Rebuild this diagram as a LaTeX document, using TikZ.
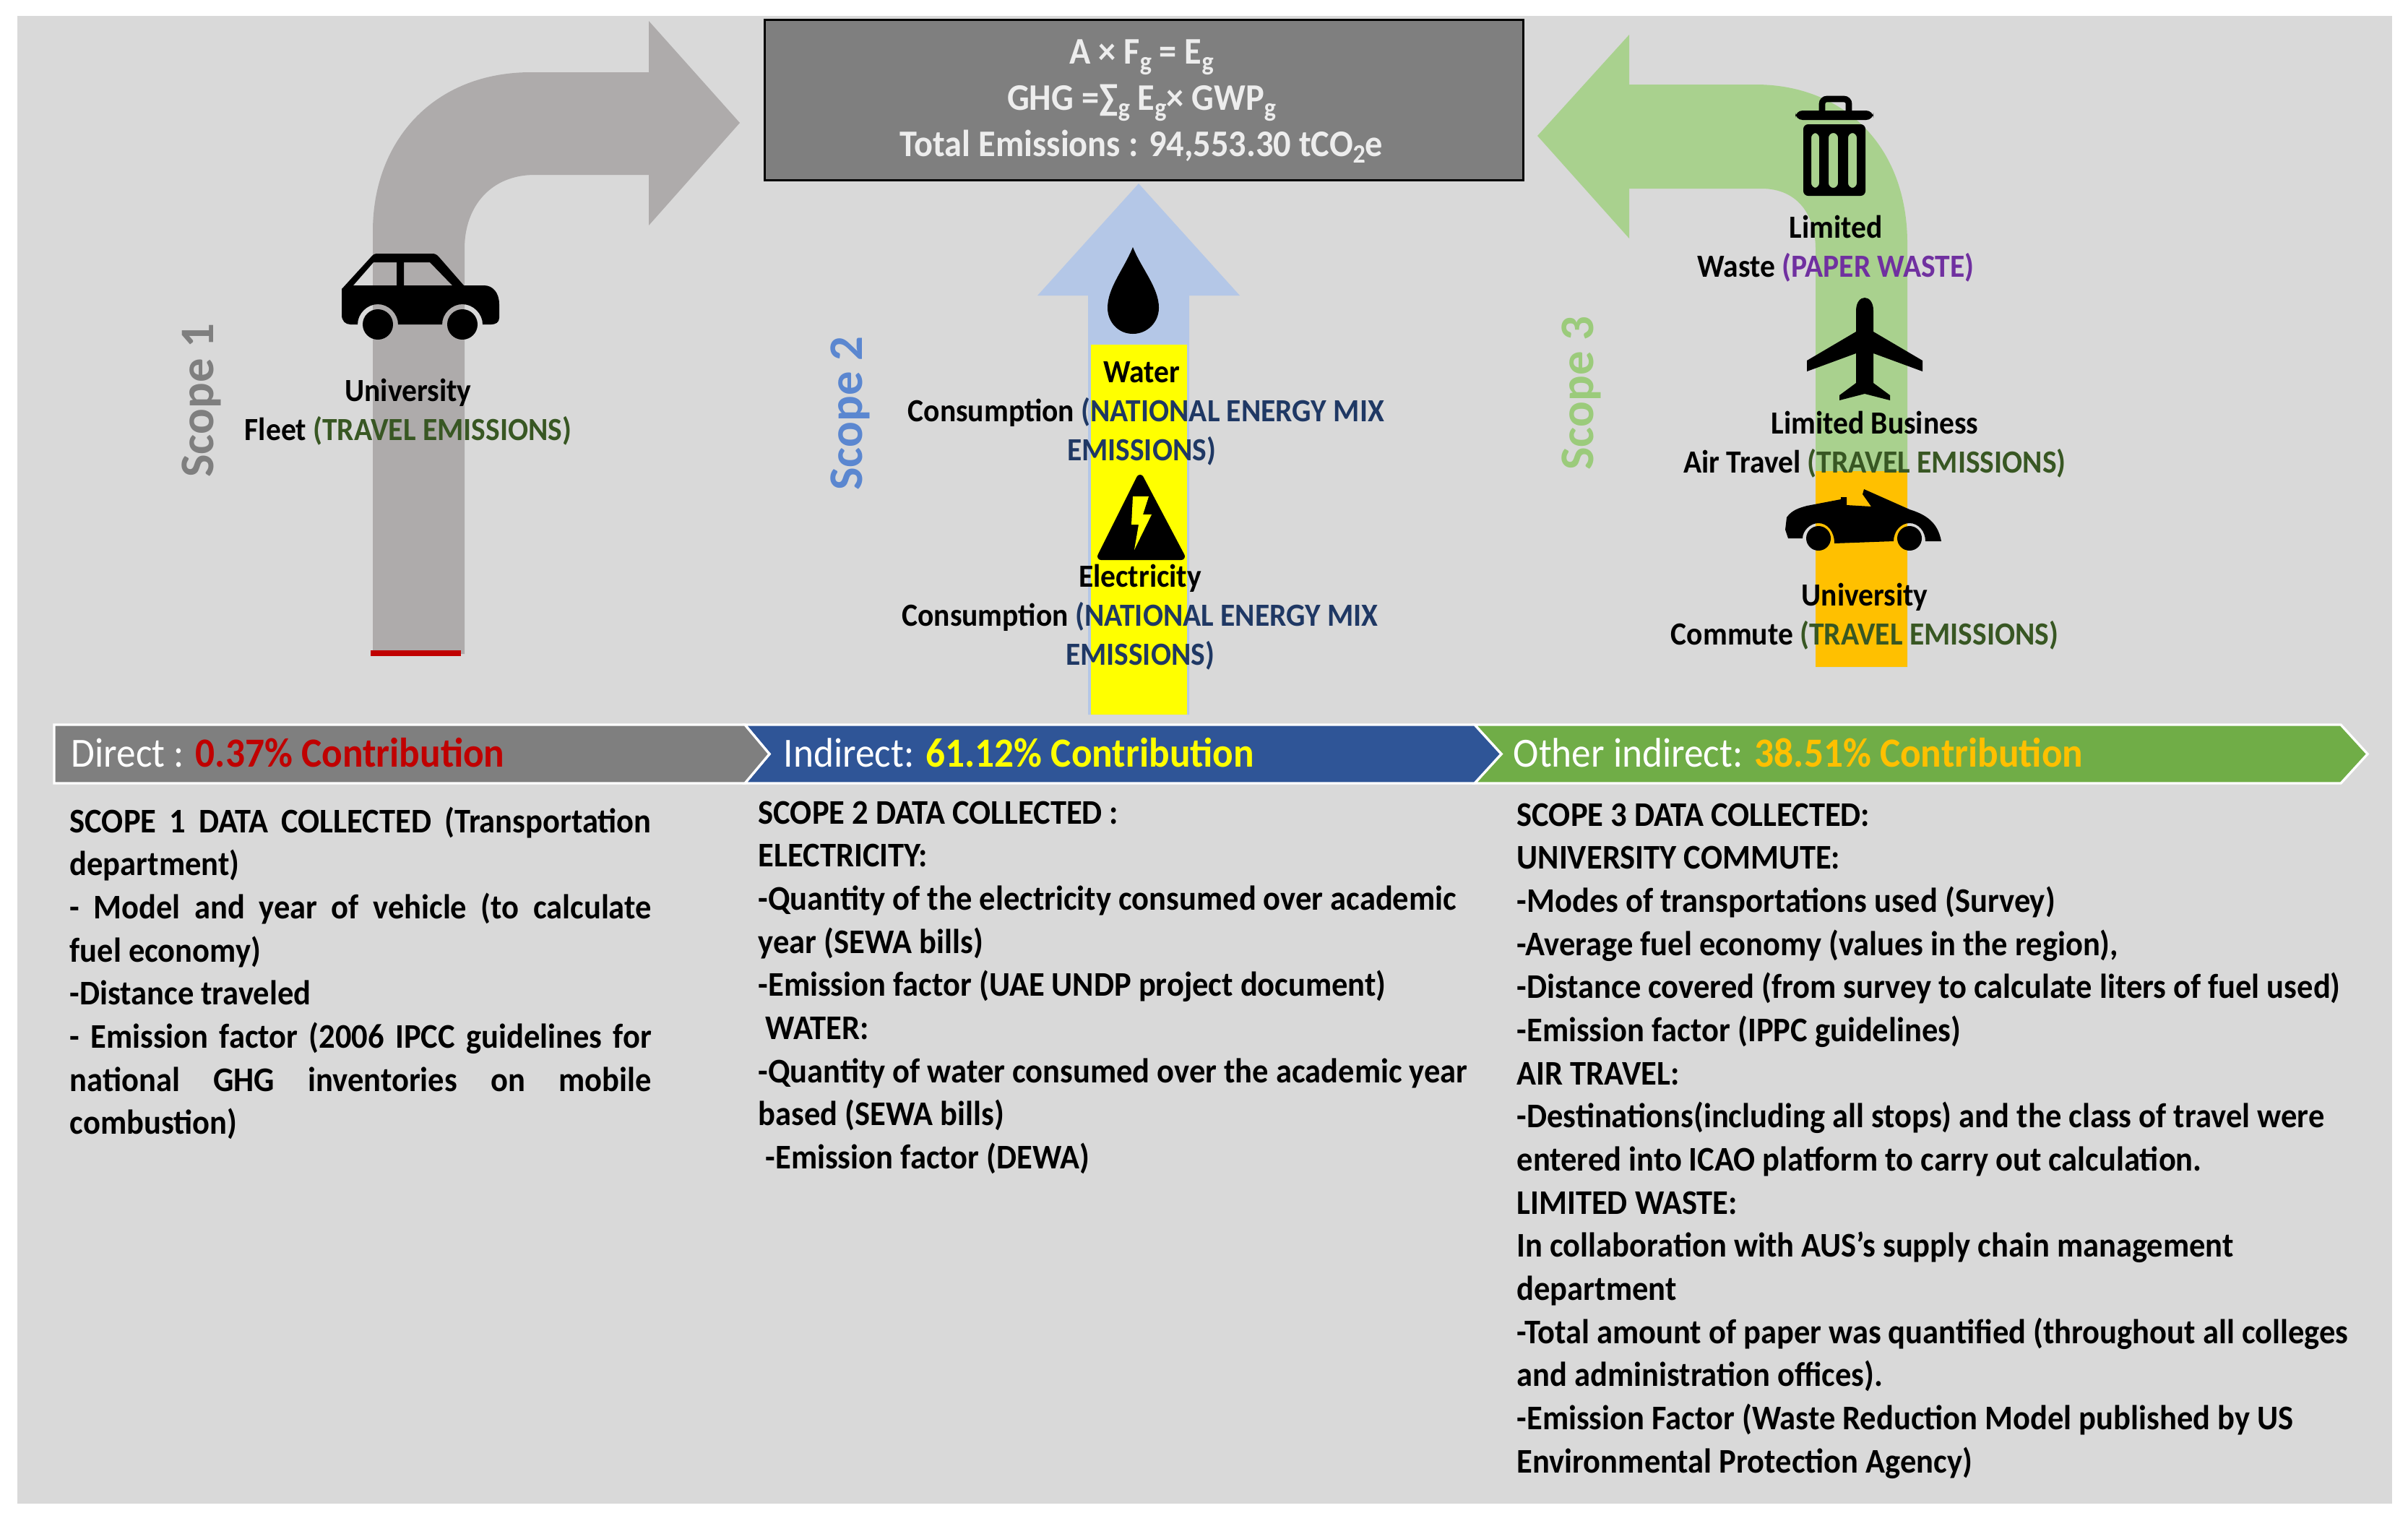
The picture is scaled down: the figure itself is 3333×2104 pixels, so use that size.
\documentclass[tikz,border=0pt]{standalone}
\usepackage{fontspec}
\setmainfont{Carlito}[FakeStretch=0.93]
\newfontfamily\plainf{Carlito}
\definecolor{bgc}{HTML}{D9D9D9}
\definecolor{s1c}{HTML}{AEABAB}
\definecolor{s2c}{HTML}{B4C7E7}
\definecolor{s3c}{HTML}{A9D18E}
\definecolor{boxc}{HTML}{7F7F7F}
\definecolor{redc}{HTML}{C00000}
\definecolor{bluec}{HTML}{2F5597}
\definecolor{greenc}{HTML}{70AD47}
\definecolor{orc}{HTML}{FFC000}
\definecolor{yelc}{HTML}{FFFF00}
\definecolor{trav}{HTML}{385723}
\definecolor{natl}{HTML}{1F3864}
\definecolor{purp}{HTML}{7030A0}
\definecolor{sc2c}{HTML}{5B87D0}
\definecolor{sc3c}{HTML}{9BCB7B}
\newcommand{\sbx}[1]{\raisebox{-0.18em}{\fontsize{11}{11}\selectfont #1}}
\newcommand{\jl}[1]{\hbox to 241.5pt{#1}}
\tikzset{
  lab/.style={font=\fontsize{13.4}{16.2}\selectfont\bfseries,align=center,inner sep=0pt},
  bodytext/.style={font=\fontsize{14.36}{17.9}\selectfont\bfseries,align=left,inner sep=0pt,anchor=north west},
  bartext/.style={font=\fontsize{17.2}{20}\selectfont,text=white,anchor=base west,inner sep=0pt},
  boxtext/.style={font=\fontsize{15.6}{19}\selectfont\bfseries,text=white!93!black,inner sep=0pt,anchor=base},
  scopetext/.style={font=\plainf\fontsize{20}{21}\selectfont\bfseries,rotate=90,inner sep=0pt},
  chev/.style={draw=white,line width=1pt,line join=miter},
  ico/.style={fill=black,even odd rule}
}
\begin{document}
\begin{tikzpicture}[x=0.3pt,y=-0.3pt]
\useasboundingbox (0,0) rectangle (3333,2104);
\fill[white] (0,0) rectangle (3333,2104);
\fill[bgc] (24,22) rectangle (3311,2081);
% Scope 1 arrow
\fill[s1c] (516,905) -- (516,320) .. controls (516,195) and (600,100) .. (735,100) -- (898,100) -- (898,29) -- (1024,170) -- (898,312) -- (898,242) -- (740,242) .. controls (680,242) and (643,285) .. (643,344) -- (643,905) -- cycle;
\draw[redc,line width=2.4pt] (513,904) -- (638,904);
% Scope 2 arrow
\fill[s2c] (1506,989) -- (1506,409) -- (1436,409) -- (1576,254) -- (1716,409) -- (1646,409) -- (1646,989) -- cycle;
\fill[yelc] (1510,477) rectangle (1643,989);
% Scope 3 arrow
\fill[s3c] (2640,923) -- (2640,337) .. controls (2640,200) and (2550,117) .. (2430,117) -- (2255,117) -- (2255,48) -- (2128,188) -- (2255,330) -- (2255,261) -- (2438,261) .. controls (2490,261) and (2513,300) .. (2513,345) -- (2513,923) -- cycle;
\fill[orc] (2513,652) rectangle (2640,923);
% Top box
\node[draw=black,line width=0.9pt,fill=boxc,minimum width=315pt,minimum height=66.5pt,anchor=north west,inner sep=0pt] (topbox) at (1057,26) {};
\node[boxtext] (f1) at (1580,88) {A × F\sbx{g} = E\sbx{g}};
\node[boxtext] (f2) at (1580,152) {GHG =∑\sbx{g} E\sbx{g}× GWP\sbx{g}};
\node[boxtext] (f3) at (1580,216) {Total Emissions : 94,553.30 tCO\sbx{2}e};
% Chevron bar
\draw[chev,fill=greenc] (2041,1003) -- (3240,1003) -- (3277,1043.5) -- (3240,1084) -- (2041,1084) -- (2078,1043.5) -- cycle;
\draw[chev,fill=bluec] (1031,1003) -- (2041,1003) -- (2078,1043.5) -- (2041,1084) -- (1031,1084) -- (1065,1043.5) -- cycle;
\draw[chev,fill=boxc] (75,1003) -- (1031,1003) -- (1065,1043.5) -- (1031,1084) -- (75,1084) -- cycle;
\node[bartext] (d1) at (98,1061) {Direct : \textcolor{redc}{\bfseries 0.37\% Contribution}};
\node[bartext] (d2) at (1084,1061) {Indirect: \textcolor{yelc}{\bfseries 61.12\% Contribution}};
\node[bartext] (d3) at (2094,1061) {Other indirect: \textcolor{orc}{\bfseries 38.51\% Contribution}};
% Scope labels
\node[scopetext,text=boxc] (sc1) at (279,554) {Scope 1};
\node[scopetext,text=sc2c] (sc2) at (1177,572) {Scope 2};
\node[scopetext,text=sc3c] (sc3) at (2189,544) {Scope 3};
% Car icon
\fill[ico] (473,400) -- (515,354) .. controls (518,351) and (520,351) .. (524,351) -- (598,351) .. controls (602,351) and (604,352) .. (607,355) -- (642,395) -- (670,395) .. controls (682,395) and (691,405) .. (691,421) -- (691,440) .. controls (691,446) and (686,449) .. (680,449) -- (668,449) .. controls (668,434) and (655,421) .. (640,421) .. controls (625,421) and (612,434) .. (612,449) -- (551,449) .. controls (551,434) and (538,421) .. (523,421) .. controls (508,421) and (495,434) .. (495,449) -- (485,449) .. controls (478,449) and (473,444) .. (473,436) -- cycle
 (489,395) -- (517,363) -- (549,363) -- (549,395) -- cycle
 (559,363) -- (595,363) -- (626,395) -- (559,395) -- cycle;
\fill (523,449) circle (21);
\fill (640,449) circle (21);
\node[lab] (l1) at (565,570) {University\\Fleet \textcolor{trav}{(TRAVEL EMISSIONS)}};
% Drop
\fill (1568,342) .. controls (1580,372) and (1604,398) .. (1604,426) .. controls (1604,446) and (1588,462) .. (1568,462) .. controls (1548,462) and (1533,446) .. (1533,426) .. controls (1533,398) and (1556,372) .. (1568,342) -- cycle;
\node[lab] (l2) at (1580,572) {Water\\\hspace*{3.8pt}Consumption \textcolor{natl}{(NATIONAL ENERGY MIX}\\\textcolor{natl}{EMISSIONS)}};
% Warning
\fill[line width=3pt,draw=black,line join=round] (1578,662) -- (1635,770) -- (1524,770) -- cycle;
\fill[yelc] (1568,687) -- (1590,687) -- (1582,712) -- (1594,712) -- (1570,761) -- (1576,726) -- (1566,726) -- cycle;
\node[lab] (l3) at (1578,854) {Electricity\\Consumption \textcolor{natl}{(NATIONAL ENERGY MIX}\\\textcolor{natl}{EMISSIONS)}};
% Trash
\fill[rounded corners=3pt] (2485,153) rectangle (2593,166);
\draw[line width=2.6pt,rounded corners=2pt] (2522,153) -- (2522,137) -- (2559,137) -- (2559,153);
\fill[ico,rounded corners=2pt] (2496,172) rectangle (2582,271)
 (2507,184) rectangle (2518,260) (2531,184) rectangle (2544,260) (2558,184) rectangle (2570,260);
\node[lab] (l4) at (2541,344) {Limited\\Waste \textcolor{purp}{(PAPER WASTE)}};
% Plane
\fill (2569,430) .. controls (2569,418) and (2575,412) .. (2581,412) .. controls (2587,412) and (2593,418) .. (2593,430) -- (2593,459) -- (2661,499) -- (2661,514) -- (2593,489) -- (2593,530) -- (2616,547) -- (2616,554) -- (2581,545) -- (2546,554) -- (2546,547) -- (2569,530) -- (2569,489) -- (2501,514) -- (2501,499) -- (2569,459) -- cycle;
\node[lab] (l5) at (2595,615) {Limited Business\\Air Travel \textcolor{trav}{(TRAVEL EMISSIONS)}};
% Convertible
\fill (2471,733) -- (2473,716) .. controls (2480,706) and (2490,703) .. (2501,700) -- (2548,691) -- (2548,688) -- (2556,688) -- (2556,699) -- (2590,701) -- (2578,684) -- (2580,677) -- (2643,705) .. controls (2665,712) and (2682,722) .. (2687,749) -- (2665,749) .. controls (2665,735) and (2655,724) .. (2643,724) .. controls (2631,724) and (2621,735) .. (2621,749) -- (2539,752) .. controls (2539,735) and (2529,724) .. (2517,724) .. controls (2505,724) and (2495,735) .. (2495,745) -- (2475,745) -- cycle;
\fill (2517,745) circle (17);
\fill (2643,745) circle (17);
\node[lab] (l6) at (2581,853) {University\\Commute \textcolor{trav}{(TRAVEL EMISSIONS)}};
% Body texts
\node[bodytext] (b1) at (96,1116) {\jl{SCOPE 1 DATA COLLECTED (Transportation}\\department)\\\jl{- Model and year of vehicle (to calculate}\\fuel economy)\\-Distance traveled\\\jl{- Emission factor (2006 IPCC guidelines for}\\\jl{national GHG inventories on mobile}\\combustion)};
\node[bodytext] (b2) at (1049,1108) {SCOPE 2 DATA COLLECTED :\\ELECTRICITY:\\-Quantity of the electricity consumed over academic\\year (SEWA bills)\\-Emission factor (UAE UNDP project document)\\\ WATER:\\-Quantity of water consumed over the academic year\\based (SEWA bills)\\\ -Emission factor (DEWA)};
\node[bodytext] (b3) at (2099,1111) {SCOPE 3 DATA COLLECTED:\\UNIVERSITY COMMUTE:\\-Modes of transportations used (Survey)\\-Average fuel economy (values in the region),\\-Distance covered (from survey to calculate liters of fuel used)\\-Emission factor (IPPC guidelines)\\AIR TRAVEL:\\-Destinations(including all stops) and the class of travel were\\entered into ICAO platform to carry out calculation.\\LIMITED WASTE:\\In collaboration with AUS’s supply chain management\\department\\-Total amount of paper was quantified (throughout all colleges\\and administration offices).\\-Emission Factor (Waste Reduction Model published by US\\Environmental Protection Agency)};
\end{tikzpicture}
\end{document}
